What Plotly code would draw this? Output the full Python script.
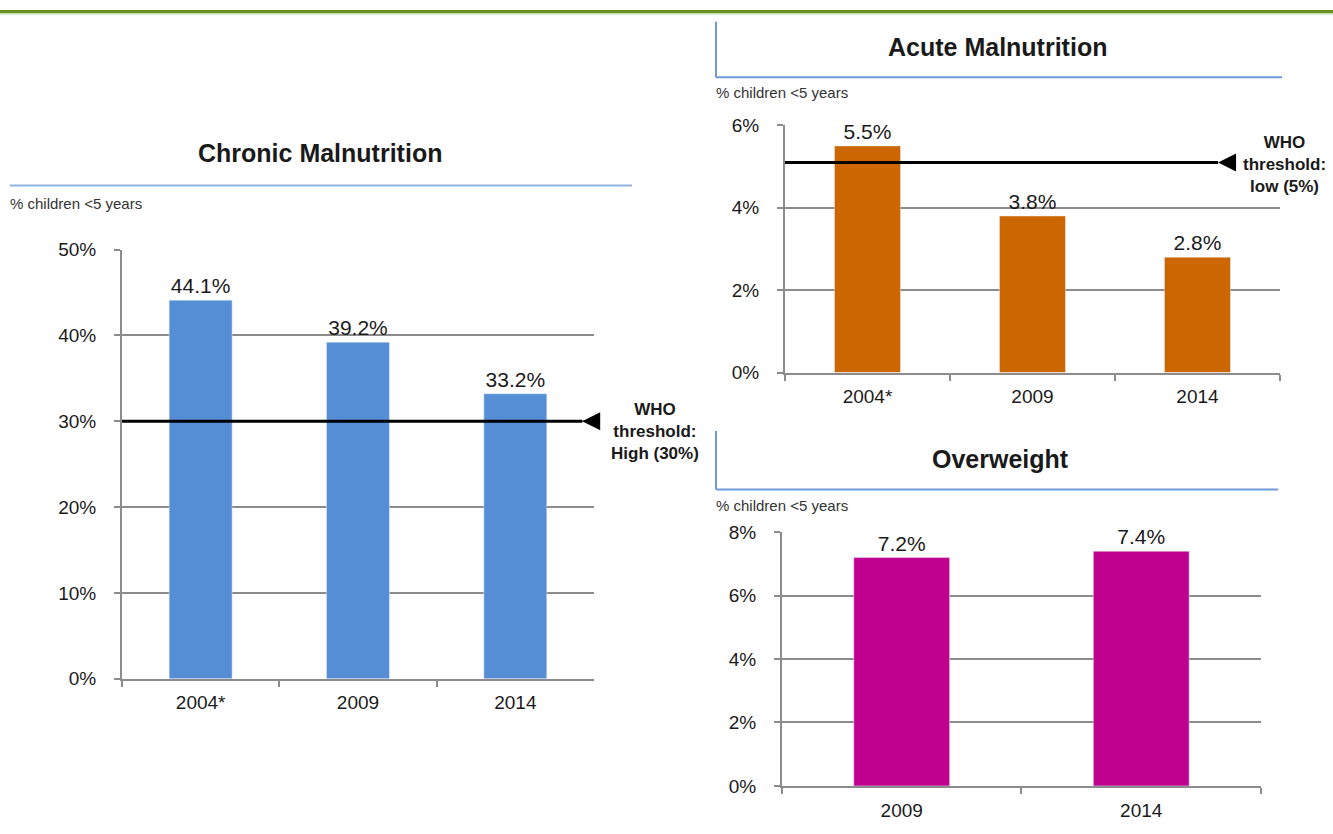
import plotly.graph_objects as go

# Chronic malnutrition (stunting), % children under 5
chronic_years = ["2004*", "2009", "2014"]
chronic_values = [44.1, 39.2, 33.2]
chronic_threshold = 30

# Acute malnutrition (wasting)
acute_years = ["2004*", "2009", "2014"]
acute_values = [5.5, 3.8, 2.8]
acute_threshold = 5.1

# Overweight
overweight_years = ["2009", "2014"]
overweight_values = [7.2, 7.4]

FONT = "Liberation Sans, Arial, sans-serif"
GRID = "#8c8c8c"

fig = go.Figure()

fig.add_trace(go.Bar(
    x=chronic_years, y=chronic_values, xaxis="x", yaxis="y",
    marker_color="#558ed5", width=0.4,
    text=[f"{v:.1f}%" for v in chronic_values], textposition="outside",
    cliponaxis=False,
))
fig.add_trace(go.Bar(
    x=acute_years, y=acute_values, xaxis="x2", yaxis="y2",
    marker_color="#cc6600", width=0.4,
    text=[f"{v:.1f}%" for v in acute_values], textposition="outside",
    cliponaxis=False,
))
fig.add_trace(go.Bar(
    x=overweight_years, y=overweight_values, xaxis="x3", yaxis="y3",
    marker_color="#c0008f", width=0.4,
    text=[f"{v:.1f}%" for v in overweight_values], textposition="outside",
    cliponaxis=False,
))
fig.update_traces(textfont=dict(size=21, color="#1a1a1a", family=FONT))


def xaxis(domain, anchor):
    return dict(
        domain=domain, anchor=anchor, type="category",
        showline=True, linecolor=GRID, linewidth=2,
        ticks="outside", tickson="boundaries", ticklen=6, tickcolor=GRID, tickwidth=2,
        ticklabelstandoff=6,
        tickfont=dict(size=19, color="#1a1a1a"), fixedrange=True,
    )


def yaxis(domain, anchor, top, step):
    return dict(
        domain=domain, anchor=anchor, range=[0, top], dtick=step,
        ticksuffix="%", showline=True, linecolor=GRID, linewidth=2,
        showgrid=True, gridcolor=GRID, gridwidth=2, zeroline=False,
        ticks="outside", ticklen=6, tickcolor=GRID, tickwidth=2,
        ticklabelstandoff=14,
        tickfont=dict(size=19, color="#1a1a1a"), fixedrange=True,
    )


fig.update_layout(
    width=1333, height=834,
    margin=dict(l=0, r=0, t=0, b=0),
    paper_bgcolor="white", plot_bgcolor="white",
    showlegend=False, bargap=0.6,
    font=dict(family=FONT, color="#1a1a1a"),
    xaxis=xaxis([0.0915, 0.4456], "y"),
    yaxis=yaxis([0.1775, 0.7054], "x", 50, 10),
    xaxis2=xaxis([0.5889, 0.9602], "y2"),
    yaxis2=yaxis([0.5540, 0.8582], "x2", 6, 2),
    xaxis3=xaxis([0.5866, 0.9460], "y3"),
    yaxis3=yaxis([0.0456, 0.3577], "x3", 8, 2),
)

shapes = [
    # green band at top of the slide
    dict(type="rect", xref="paper", yref="paper", x0=0, x1=1, y0=1 - 3 / 834, y1=1,
         fillcolor="#6f8f23", line_width=0),
    dict(type="line", xref="paper", yref="paper", x0=0, x1=1, y0=1 - 4 / 834, y1=1 - 4 / 834,
         line=dict(color="#9fd07a", width=1)),
    # title rules
    dict(type="line", xref="paper", yref="paper", x0=10 / 1333, x1=632 / 1333,
         y0=1 - 180 / 834, y1=1 - 180 / 834, line=dict(color="#8db3e2", width=2)),
    dict(type="line", xref="paper", yref="paper", x0=716 / 1333, x1=1282 / 1333,
         y0=1 - 69 / 834, y1=1 - 69 / 834, line=dict(color="#6f9ad8", width=2)),
    dict(type="line", xref="paper", yref="paper", x0=716 / 1333, x1=716 / 1333,
         y0=1 - 69 / 834, y1=1 - 12 / 834, line=dict(color="#6f9ad8", width=2)),
    dict(type="line", xref="paper", yref="paper", x0=716 / 1333, x1=1278 / 1333,
         y0=1 - 492 / 834, y1=1 - 492 / 834, line=dict(color="#6f9ad8", width=2)),
    dict(type="line", xref="paper", yref="paper", x0=716 / 1333, x1=716 / 1333,
         y0=1 - 492 / 834, y1=1 - 432 / 834, line=dict(color="#6f9ad8", width=2)),
    # WHO threshold lines
    dict(type="line", xref="x domain", yref="y", x0=0, x1=0.975,
         y0=chronic_threshold, y1=chronic_threshold, line=dict(color="black", width=3)),
    dict(type="line", xref="x2 domain", yref="y2", x0=0, x1=0.875,
         y0=acute_threshold, y1=acute_threshold, line=dict(color="black", width=3)),
]
fig.update_layout(shapes=shapes)

annotations = [
    dict(text="<b>Chronic Malnutrition</b>", x=320 / 1333, y=1 - 147 / 834),
    dict(text="<b>Acute Malnutrition</b>", x=998 / 1333, y=1 - 38 / 834),
    dict(text="<b>Overweight</b>", x=1000 / 1333, y=1 - 461 / 834),
]
anns = []
for a in annotations:
    anns.append(dict(text=a["text"], x=a["x"], y=a["y"], xref="paper", yref="paper",
                     xanchor="center", yanchor="middle", showarrow=False,
                     font=dict(size=25, color="#1a1a1a")))
for xp, yp in [(8, 199), (714, 85), (714, 508)]:
    anns.append(dict(text="% children <5 years", x=xp / 1333, y=1 - yp / 834,
                     xref="paper", yref="paper", xanchor="left", yanchor="middle",
                     showarrow=False, font=dict(size=15, color="#333333")))
# threshold labels
anns.append(dict(text="<b>WHO<br>threshold:<br>High (30%)</b>", x=655 / 1333, y=1 - 432 / 834,
                 xref="paper", yref="paper", xanchor="center", yanchor="middle",
                 showarrow=False, font=dict(size=17, color="#1a1a1a")))
anns.append(dict(text="<b>WHO<br>threshold:<br>low (5%)</b>", x=1284 / 1333, y=1 - 158 / 834,
                 xref="paper", yref="paper", xanchor="center", yanchor="middle",
                 showarrow=False, font=dict(size=17, color="#1a1a1a")))
# arrowheads at the right end of the threshold lines
anns.append(dict(x=0.975, y=chronic_threshold, xref="x domain", yref="y", text="",
                 showarrow=True, ax=14, ay=0, arrowhead=2, arrowsize=1.2,
                 arrowwidth=3, arrowcolor="black"))
anns.append(dict(x=0.875, y=acute_threshold, xref="x2 domain", yref="y2", text="",
                 showarrow=True, ax=14, ay=0, arrowhead=2, arrowsize=1.2,
                 arrowwidth=3, arrowcolor="black"))
fig.update_layout(annotations=anns)

fig.write_html(
    "out.html",
    config={"displayModeBar": False},
    post_script=(
        "document.body.style.margin='0';document.body.style.overflow='hidden';"
        "var gd=document.getElementById('{plot_id}');"
        "gd.style.position='absolute';gd.style.top='0';gd.style.left='0';"
    ),
)
